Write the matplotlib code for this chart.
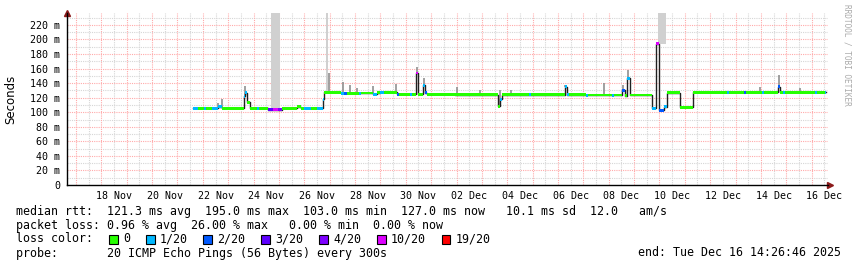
import numpy as np
import matplotlib.pyplot as plt
from matplotlib.patches import Rectangle

W, H = 857, 267
MONO = "DejaVu Sans Mono"

# time axis: days since 17 Nov 00:00
x_start, x_end = -0.355, 29.645
day_labels = ["18 Nov", "20 Nov", "22 Nov", "24 Nov", "26 Nov", "28 Nov", "30 Nov",
              "02 Dec", "04 Dec", "06 Dec", "08 Dec", "10 Dec", "12 Dec", "14 Dec", "16 Dec"]
label_days = [1.5 + 2 * i for i in range(len(day_labels))]
y_ticks = list(range(0, 221, 20))
y_labels = ["0"] + [f"{v} m" for v in y_ticks[1:]]

# median rtt (ms) as steps: start time, value, loss class index
seg_t = [4.61, 4.80, 5.04, 5.12, 5.35, 5.60, 5.75, 6.58, 6.62, 6.68, 6.76, 6.86, 7.14, 7.22,
         7.57, 7.75, 7.95, 8.12, 8.71, 8.87, 9.00, 9.25, 9.50, 9.74, 9.78,
         10.45, 10.55, 10.70, 11.15, 11.25, 11.70, 11.85, 11.98, 12.15, 12.65, 12.72,
         13.16, 13.24, 13.40, 13.48, 13.68, 13.76, 13.84, 14.94, 16.65, 16.72, 16.80,
         17.85, 17.93, 19.27, 19.35, 19.45, 20.10, 20.18, 21.13, 21.21, 21.52, 21.64,
         21.72, 21.84, 22.70, 22.88, 22.98, 23.18, 23.30, 23.81, 24.32, 25.66, 25.74,
         26.33, 26.40, 27.04, 27.12, 27.67, 27.75, 27.87, 27.95, 29.13, 29.21, 29.52]
seg_v = [105.5, 105.5, 105.5, 105.5, 105.5, 107.5, 105.5, 105.5, 122, 127, 114, 105.5, 105.5, 105.5,
         103.5, 103.5, 103.5, 105.5, 107.5, 105.5, 105.5, 105.5, 105.5, 118, 127.5,
         126, 126, 126, 126, 126.5, 125, 127, 127.5, 127.5, 125, 125,
         125, 125, 154, 125, 137, 127, 125, 124, 108, 118, 124,
         124, 124, 135, 124, 124, 123.5, 123.7, 123.5, 123.7, 130, 123,
         147, 123.7, 105.5, 194, 103, 107.6, 127, 107, 127.5, 127.5, 127.5,
         127.5, 127.5, 127.5, 127.5, 135, 127.5, 127.5, 127.5, 127.5, 127.5, 127.5]
seg_loss = [1, 0, 1, 0, 1, 1, 0, 0, 1, 1, 0, 0, 1, 0,
            3, 5, 4, 0, 0, 0, 1, 0, 1, 1, 0,
            1, 2, 0, 1, 0, 1, 0, 1, 0, 2, 0,
            1, 0, 5, 0, 1, 2, 0, 0, 0, 1, 0,
            1, 0, 1, 1, 0, 1, 0, 1, 0, 2, 0,
            1, 0, 1, 5, 2, 1, 0, 0, 0, 1, 0,
            2, 0, 1, 0, 2, 0, 1, 0, 1, 0, 1]
data_end = 29.56

# smoke spikes above median (time, top ms) and tall smoke bands (start, end)
smoke_t = [5.60, 5.75, 6.66, 9.97, 10.52, 10.80, 11.08, 11.71, 12.61, 13.44, 13.72, 15.02,
           15.92, 16.71, 17.15, 19.27, 20.81, 21.56, 21.76, 26.96, 27.71, 28.54]
smoke_top = [113, 118, 136, 154, 142, 137, 133, 136, 139, 162, 147, 135,
             131, 131, 131, 137, 140, 137, 158, 135, 151, 133]
tall_t0 = [7.69, 9.87, 22.94]
tall_t1 = [8.04, 9.92, 23.26]

loss_names = ["0", "1/20", "2/20", "3/20", "4/20", "10/20", "19/20"]
loss_colors = ["#26ff00", "#00b8ff", "#0059ff", "#5e00ff", "#7e00ff", "#dd00ff", "#ff0000"]

fig = plt.figure(figsize=(W / 100, H / 100), dpi=100)
fig.patch.set_facecolor("white")
ax = fig.add_axes([67 / W, 1 - 185 / H, (828 - 67) / W, (185 - 13.3) / H])
y_top = 236
ax.set_xlim(x_start, x_end)
ax.set_ylim(0, y_top)

# grid
for d in np.arange(0, 30):
    ax.axvline(d + 0.5, color="#d6d6d6", lw=0.8, ls=(0, (1, 1)), zorder=0)
    ax.axvline(d, color="#ffaaaa", lw=0.8, ls=(0, (1, 1)), zorder=0.5)
for v in range(10, y_top, 20):
    ax.axhline(v, color="#d6d6d6", lw=0.8, ls=(0, (1, 1)), zorder=0)
for v in y_ticks[1:]:
    ax.axhline(v, color="#ffaaaa", lw=0.8, ls=(0, (1, 1)), zorder=0.5)

seg_t_a = np.array(seg_t)
seg_v_a = np.array(seg_v)
ends = np.append(seg_t_a[1:], data_end)

# smoke
for t0, t1 in zip(tall_t0, tall_t1):
    base = seg_v_a[np.searchsorted(seg_t_a, t0, side="right") - 1]
    ax.fill_between([t0, t1], base, y_top, color="#d0d0d0", lw=0, zorder=1)
for t, top in zip(smoke_t, smoke_top):
    base = seg_v_a[np.searchsorted(seg_t_a, t, side="right") - 1]
    ax.vlines(t, base, top, color="#909090", lw=1.2, zorder=1.5)

# median line: black connector + coloured loss band
ax.step(np.append(seg_t_a, data_end), np.append(seg_v_a, seg_v_a[-1]), where="post",
        color="#202020", lw=1.0, zorder=2)
for t0, t1, v, l in zip(seg_t_a, ends, seg_v_a, seg_loss):
    ax.fill_between([t0, t1], v - 2.0, v + 2.0, color=loss_colors[l], lw=0, zorder=3)

# axes styling
for s in ["top", "right"]:
    ax.spines[s].set_visible(False)
ax.spines["left"].set_linewidth(1.0)
ax.spines["bottom"].set_linewidth(1.0)
ax.set_yticks(y_ticks)
ax.set_yticklabels(y_labels, family=MONO, fontsize=7.2)
ax.set_xticks(label_days)
ax.set_xticklabels(day_labels, family=MONO, fontsize=7.2)
ax.tick_params(axis="both", length=0, pad=5)
ax.tick_params(axis="x", pad=4)
ax.plot([0], [1], marker="^", color="#8b1a1a", ms=4, transform=ax.transAxes, clip_on=False)
ax.plot([1.003], [0], marker=">", color="#8b1a1a", ms=4, transform=ax.transAxes, clip_on=False)
ax.set_ylabel("Seconds", family="DejaVu Sans", fontsize=8.5)
ax.yaxis.set_label_coords(-50 / 761, 0.5)


def ftext(x, y, s, **kw):
    fig.text(x / W, 1 - y / H, s, family=MONO, fontsize=8.4, va="center", **kw)


ftext(16, 211, "median rtt:  121.3 ms avg  195.0 ms max  103.0 ms min  127.0 ms now   10.1 ms sd  12.0   am/s")
ftext(16, 225, "packet loss: 0.96 % avg  26.00 % max   0.00 % min  0.00 % now")
ftext(16, 239, "loss color:")
sq_x = [109, 146, 203, 261, 319, 377, 442]
for x, name, c in zip(sq_x, loss_names, loss_colors):
    fig.patches.append(Rectangle((x / W, 1 - 243.5 / H), 8.5 / W, 8.5 / H, transform=fig.transFigure,
                                 facecolor=c, edgecolor="black", lw=0.8))
    ftext(x + 14, 239, name)
ftext(16, 253, "probe:       20 ICMP Echo Pings (56 Bytes) every 300s")
ftext(841, 253, "end: Tue Dec 16 14:26:46 2025", ha="right")
fig.text(847 / W, 1 - 4 / H, "RRDTOOL / TOBI OETIKER", family=MONO, fontsize=5.6, color="#aaaaaa",
         rotation=270, ha="center", va="top")

fig.savefig("out.png", dpi=100, facecolor="white")
